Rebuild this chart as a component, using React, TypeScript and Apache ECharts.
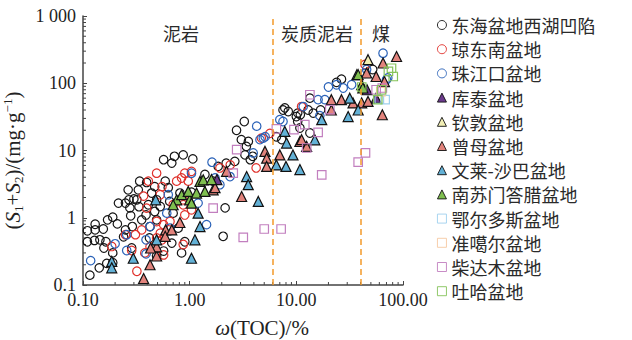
import React, { useEffect, useRef } from "react";
import * as echarts from "echarts";

type P = [number, number];

const seriesNames = [
  "东海盆地西湖凹陷", "琼东南盆地", "珠江口盆地", "库泰盆地", "钦敦盆地", "曾母盆地",
  "文莱-沙巴盆地", "南苏门答腊盆地", "鄂尔多斯盆地", "准噶尔盆地", "柴达木盆地", "吐哈盆地",
];

const xihu: P[] = [
  [0.11, 0.64], [0.13, 0.66], [0.13, 0.8], [0.155, 0.68], [0.11, 0.44], [0.128, 0.46], [0.144, 0.47], [0.164, 0.44],
  [0.157, 0.355], [0.142, 0.18], [0.116, 0.14], [0.167, 0.21], [0.19, 0.215], [0.19, 0.3], [0.17, 0.93], [0.19, 1.02],
  [0.21, 0.81], [0.215, 1.65], [0.265, 2.6], [0.25, 0.66], [0.27, 1.85], [0.3, 1.9], [0.28, 1.07], [0.29, 0.74],
  [0.286, 0.355], [0.33, 2.6], [0.335, 1.46], [0.355, 0.93], [0.395, 3.35], [0.44, 2.33], [0.47, 2.9], [0.49, 1.85],
  [0.57, 7.3], [0.68, 6.5], [0.72, 8.2], [0.87, 8.6], [1.07, 7.5], [0.59, 3.5], [0.63, 2.8], [0.65, 1.75],
  [0.7, 1.17], [0.49, 0.93], [0.425, 0.74], [0.42, 0.5], [0.47, 0.355], [0.57, 0.32], [0.49, 0.27], [0.68, 0.42],
  [0.84, 0.3], [0.9, 0.44], [0.78, 0.7], [0.41, 1.56], [0.47, 1.24], [0.53, 1.47], [0.39, 1.1], [0.24, 0.52],
  [0.34, 3.5], [0.25, 1.65], [0.275, 1.4], [0.32, 1.85], [0.81, 2.33],
  [1.04, 2.4], [1.39, 4.4], [1.66, 3.5], [1.85, 5.8], [2.2, 6.5], [2.65, 6.9], [2.75, 20], [3.25, 27],
  [3.05, 14.5], [3.55, 13.6], [3.4, 11.5], [3.7, 7.3], [3.9, 8.2], [3.3, 8.6], [2.06, 0.53], [2.15, 1.4],
  [6.5, 16], [7.8, 43], [8.4, 38], [10, 32], [10.3, 36], [10.3, 27], [10.8, 21.6], [12.9, 40], [13.4, 60],
  [14.4, 36], [13.4, 18.2], [26.5, 115], [23.8, 103], [52, 160], [7.3, 14.5], [10.9, 34], [16.9, 40], [7.5, 40],
];

const qiongdongnan: P[] = [
  [0.41, 3.5], [0.49, 4.6], [0.55, 2.9], [0.37, 2.1], [0.395, 1.39], [0.49, 0.88], [0.57, 0.79], [0.53, 0.59],
  [0.49, 0.5], [0.32, 0.16], [0.286, 0.326], [0.186, 0.374], [0.25, 0.56], [0.355, 0.66], [0.38, 0.3], [0.654, 0.88],
  [0.7, 1.56], [0.755, 3.5], [0.84, 3.9], [0.9, 4.6], [1.04, 4.9], [0.97, 3.5], [0.87, 1.85], [0.87, 1.56],
  [1.04, 1.31], [0.87, 0.4], [1.92, 5.5], [2.4, 6.1], [4.2, 5.5], [5.65, 18], [4.7, 15.3], [11.2, 45], [44, 190],
  [0.53, 2.2], [0.31, 0.56], [0.55, 0.47], [0.425, 0.37], [0.57, 0.28], [0.9, 1.1],
];

const zhujiangkou: P[] = [
  [0.118, 0.23], [0.2, 0.41], [0.257, 0.56], [0.257, 0.326], [0.39, 0.47], [0.39, 0.29], [0.425, 0.74], [0.63, 2.2],
  [0.61, 1.17], [0.654, 0.7], [1.04, 4.6], [1.2, 1.65], [1.44, 0.79], [1.62, 6.7], [1.73, 3.9], [1.92, 3.1],
  [2.39, 4.1], [3.94, 9.2], [4.25, 23], [5.1, 16], [7.5, 27], [11.6, 45], [16.6, 33], [16, 57], [18.5, 57],
  [20, 88], [23.8, 95], [27.5, 85], [33, 95], [45.6, 160], [65, 280], [72, 120], [44, 140], [70, 113],
  [4.56, 14.5], [4.9, 15.3], [7, 28.7],
];

const kutai: P[] = [[1.8, 3.7], [46, 80], [56, 60]];
const qindun: P[] = [[47, 224]];
const zengmu: P[] = [
  [0.37, 0.125], [0.425, 0.2], [0.49, 0.27], [0.49, 0.37], [0.43, 0.355], [0.595, 0.66], [0.59, 0.53], [0.68, 0.66],
  [0.81, 0.85], [1.66, 2.6], [1.73, 2.8], [2.22, 4.9], [3.07, 2.07], [5.08, 9.7], [5.27, 7.7], [5.27, 5.8],
  [7.0, 8.6], [10.8, 13.6], [12.5, 11.5], [11.2, 14.5], [21.3, 57], [26.5, 57], [34, 51], [41, 51], [47, 53.6],
  [21.3, 40], [56, 126], [45.6, 142], [65, 200], [87, 250], [64, 34], [67, 106],
];
const wenlai: P[] = [
  [0.186, 0.225], [0.186, 0.18], [0.296, 0.25], [0.48, 1.85], [0.49, 0.47], [1.04, 0.25], [1.12, 0.47], [1.2, 1.17],
  [1.25, 0.74], [3.42, 4.1], [3.54, 3.1], [4.4, 1.75], [6.5, 6.1], [8.0, 5.8], [9.3, 8.6], [10.8, 5.2],
  [7.8, 19.2], [8.1, 12.9], [14.9, 14.4], [17.3, 28.7], [30.6, 32], [31.7, 60], [38, 40], [37, 134],
];
const nansumen: P[] = [
  [0.755, 1.85], [0.84, 2.2], [1.0, 1.85], [1.04, 1.65], [0.97, 2.46], [1.16, 2.33], [1.25, 3.47], [1.34, 3.67],
  [1.39, 2.46], [1.6, 3.7], [0.7, 1.56], [38, 134], [41, 95], [42, 85],
];
const eerduosi: P[] = [[68, 57], [60, 58]];
const zhungeer: P[] = [[62, 75]];
const chaidamu: P[] = [
  [1.66, 1.39], [2.76, 10.3], [2.56, 4.6], [3.18, 0.51], [5.0, 0.68], [7.2, 0.68], [9.5, 20.4], [12.0, 24.2],
  [12.5, 10.9], [16, 18.6], [17.3, 4.35], [13.4, 67.5], [20.6, 40.5], [38, 6.7], [44.5, 9.2], [56, 80], [64, 85],
  [6.5, 21],
];
const tuha: P[] = [[58, 57], [63, 80], [78, 167], [81, 126], [73, 150], [41, 88]];

const boundaries = [6, 40];
const xMinor = [0.2, 0.3, 0.4, 0.5, 0.6, 0.7, 0.8, 0.9, 2, 3, 4, 5, 6, 7, 8, 9, 20, 30, 40, 50, 60, 70, 80, 90];
const yMinor = [
  0.2, 0.3, 0.4, 0.5, 0.6, 0.7, 0.8, 0.9, 2, 3, 4, 5, 6, 7, 8, 9, 20, 30, 40, 50, 60, 70, 80, 90,
  200, 300, 400, 500, 600, 700, 800, 900,
];

const serif = "'Liberation Serif', 'Times New Roman', serif";
const cjk = "'Noto Sans CJK SC', sans-serif";

export default function App() {
  const ref = useRef<HTMLDivElement>(null);
  useEffect(() => {
    if (!ref.current) return;
    const chart = echarts.init(ref.current, undefined, { renderer: "svg" });

    const hollow = (name: string, data: P[], symbol: string, color: string, size: number) => ({
      name, type: "scatter", data, symbol, symbolSize: size,
      itemStyle: { color: "rgba(0,0,0,0)", borderColor: color, borderWidth: 1.2, opacity: 1 },
    });
    const tri = (name: string, data: P[], color: string) => ({
      name, type: "scatter", data, symbol: "triangle", symbolSize: 10,
      itemStyle: { color, borderColor: "#111", borderWidth: 1.2, opacity: 1 },
    });

    const series: any[] = [
      {
        ...hollow(seriesNames[0], xihu, "circle", "#151515", 8.5),
        markLine: {
          silent: true, symbol: "none", label: { show: false },
          lineStyle: { type: [6, 4], color: "#f39a2b", width: 1.5 },
          data: boundaries.map((v) => ({ xAxis: v })),
        },
      },
      hollow(seriesNames[1], qiongdongnan, "circle", "#e0302a", 8.5),
      hollow(seriesNames[2], zhujiangkou, "circle", "#2a62b8", 8.5),
      tri(seriesNames[3], kutai, "#6b3a8c"),
      tri(seriesNames[4], qindun, "#f2efb5"),
      tri(seriesNames[5], zengmu, "#e2837c"),
      tri(seriesNames[6], wenlai, "#63b1d6"),
      tri(seriesNames[7], nansumen, "#7fbf4f"),
      hollow(seriesNames[8], eerduosi, "rect", "#9fd0ee", 8.5),
      hollow(seriesNames[9], zhungeer, "rect", "#f6c8a2", 8.5),
      hollow(seriesNames[10], chaidamu, "rect", "#c27fbf", 8.5),
      hollow(seriesNames[11], tuha, "rect", "#86c35a", 8.5),
      {
        name: "xMinor", type: "custom", silent: true, clip: false,
        data: xMinor.map((v) => [v, 0.1]),
        renderItem: (_p: any, api: any) => {
          const c = api.coord([api.value(0), api.value(1)]);
          return { type: "line", shape: { x1: c[0], y1: c[1], x2: c[0], y2: c[1] - 3 }, style: { stroke: "#444", lineWidth: 1 } };
        },
      },
      {
        name: "yMinor", type: "custom", silent: true, clip: false,
        data: yMinor.map((v) => [0.1, v]),
        renderItem: (_p: any, api: any) => {
          const c = api.coord([api.value(0), api.value(1)]);
          return { type: "line", shape: { x1: c[0], y1: c[1], x2: c[0] + 3, y2: c[1] }, style: { stroke: "#444", lineWidth: 1 } };
        },
      },
    ];

    chart.setOption({
      animation: false,
      backgroundColor: "#fff",
      grid: { left: 83, right: 229, top: 16, bottom: 55, containLabel: false, outerBoundsMode: "none" },
      legend: {
        data: seriesNames, orient: "vertical", left: 432, top: 11, itemGap: 6.2,
        itemWidth: 9, itemHeight: 9,
        itemStyle: { borderWidth: 0.9 },
        textStyle: { fontSize: 18, fontFamily: cjk, color: "#2a2a2a", lineHeight: 18 },
      },
      xAxis: {
        type: "log", logBase: 10, min: 0.1, max: 100,
        name: "{i|ω}(TOC)/%", nameLocation: "middle", nameGap: 32,
        nameTextStyle: {
          fontFamily: serif, fontSize: 21, color: "#222", padding: [0, 0, 0, 38],
          rich: { i: { fontFamily: serif, fontSize: 21, fontStyle: "italic", color: "#222" } },
        },
        axisLine: { lineStyle: { color: "#444", width: 1.5 } },
        axisTick: { inside: true, length: 4, lineStyle: { color: "#444" } },
        axisLabel: { fontFamily: serif, fontSize: 18, color: "#222", margin: 6, formatter: (v: number) => v.toFixed(2) },
        splitLine: { show: false },
      },
      yAxis: {
        type: "log", logBase: 10, min: 0.1, max: 1000,
        name: "({i|S}{sub|1}+{i|S}{sub|2})/(mg·g{sup|−1})", nameLocation: "middle", nameGap: 50, nameRotate: 90,
        nameTextStyle: {
          fontFamily: serif, fontSize: 21, color: "#222", lineHeight: 24, padding: [0, 20, 0, 0],
          rich: {
            i: { fontFamily: serif, fontSize: 21, fontStyle: "italic", color: "#222", lineHeight: 24 },
            sub: { fontFamily: serif, fontSize: 13, color: "#222", verticalAlign: "bottom", lineHeight: 12 },
            sup: { fontFamily: serif, fontSize: 13, color: "#222", verticalAlign: "top", lineHeight: 12 },
          },
        },
        axisLine: { lineStyle: { color: "#444", width: 1.5 } },
        axisTick: { inside: true, length: 4, lineStyle: { color: "#444" } },
        axisLabel: {
          fontFamily: serif, fontSize: 18, color: "#222", margin: 7,
          formatter: (v: number) => (v >= 1000 ? "1 000" : String(v)),
        },
        splitLine: { show: false },
      },
      graphic: [
        { type: "text", x: 181, y: 33, style: { text: "泥岩", font: `18px ${cjk}`, fill: "#2a2a2a", align: "center", verticalAlign: "middle" } },
        { type: "text", x: 317, y: 33, style: { text: "炭质泥岩", font: `18px ${cjk}`, fill: "#2a2a2a", align: "center", verticalAlign: "middle" } },
        { type: "text", x: 381, y: 33, style: { text: "煤", font: `18px ${cjk}`, fill: "#2a2a2a", align: "center", verticalAlign: "middle" } },
      ],
      series,
    });
    return () => chart.dispose();
  }, []);
  return <div ref={ref} style={{ position: "fixed", left: 0, top: 0, width: 632, height: 340 }} />;
}
